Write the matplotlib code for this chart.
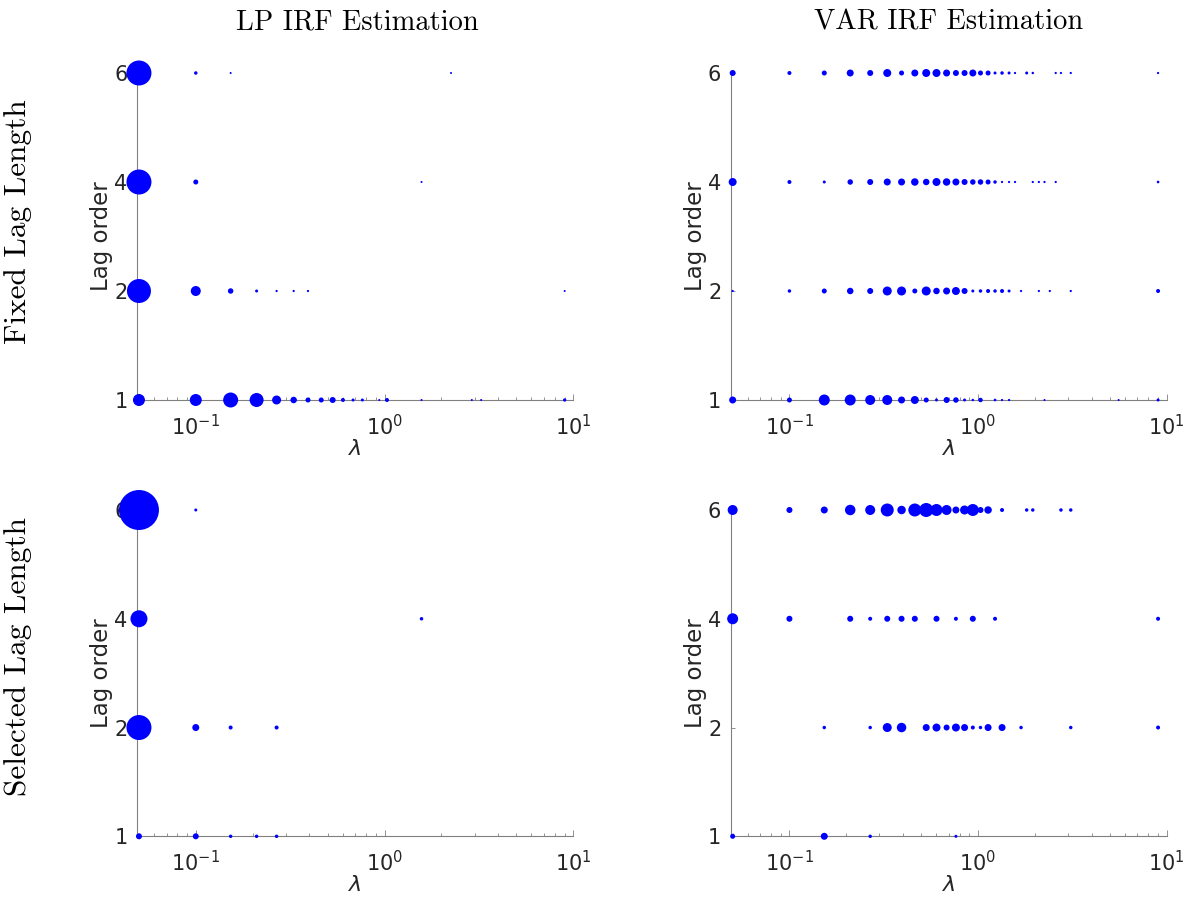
import numpy as np
import matplotlib.pyplot as plt

# lag orders shown on the y axis (equally spaced, categorical)
lags = [1, 2, 4, 6]

# frequency of each (lambda, lag) pick -> marker area
# LP, fixed lag length
lp_fix_lam = {
    6: [0.05, 0.1, 0.153, 2.25],
    4: [0.05, 0.1, 1.57],
    2: [0.05, 0.1, 0.153, 0.21, 0.268, 0.33, 0.393, 9.0],
    1: [0.05, 0.1, 0.153, 0.21, 0.268, 0.33, 0.393, 0.462, 0.531, 0.602, 0.681,
        0.763, 0.938, 1.03, 1.57, 2.9, 3.25, 9.0],
}
lp_fix_n = {
    6: [625, 12, 4, 4],
    4: [625, 25, 4],
    2: [576, 100, 30, 9, 5, 5, 5, 4],
    1: [144, 144, 225, 196, 81, 42, 25, 25, 36, 16, 9, 9, 4, 16, 4, 4, 4, 11],
}

# VAR, fixed lag length
var_fix_lam = {
    6: [0.05, 0.1, 0.153, 0.21, 0.268, 0.33, 0.393, 0.462, 0.531, 0.602, 0.681,
        0.763, 0.848, 0.938, 1.03, 1.13, 1.23, 1.34, 1.46, 1.57, 1.81, 1.95,
        2.58, 2.75, 3.10, 9.0],
    4: [0.05, 0.1, 0.153, 0.21, 0.268, 0.33, 0.393, 0.462, 0.531, 0.602, 0.681,
        0.763, 0.848, 0.938, 1.03, 1.13, 1.23, 1.34, 1.46, 1.57, 1.95, 2.10,
        2.25, 2.58, 9.0],
    2: [0.05, 0.1, 0.153, 0.21, 0.268, 0.33, 0.393, 0.462, 0.531, 0.602, 0.681,
        0.763, 0.848, 0.938, 1.03, 1.13, 1.23, 1.34, 1.46, 1.69, 2.10, 2.40,
        3.10, 9.0],
    1: [0.05, 0.1, 0.153, 0.21, 0.268, 0.33, 0.393, 0.462, 0.531, 0.602, 0.681,
        0.763, 0.848, 0.938, 1.03, 1.23, 1.34, 1.46, 2.25, 5.56, 9.0],
}
var_fix_n = {
    6: [36, 16, 25, 49, 36, 64, 25, 49, 64, 64, 49, 36, 36, 49, 25, 25, 9, 12,
        9, 5, 9, 6, 5, 5, 5, 5],
    4: [64, 16, 9, 30, 36, 49, 49, 56, 42, 64, 56, 49, 36, 30, 30, 25, 12, 5,
        5, 5, 5, 5, 5, 5, 7],
    2: [5, 12, 25, 42, 36, 81, 81, 25, 81, 42, 49, 64, 36, 9, 12, 16, 12, 16,
        9, 5, 5, 5, 5, 16],
    1: [49, 25, 121, 121, 100, 100, 49, 64, 25, 9, 36, 30, 9, 6, 20, 7, 5, 5,
        4, 4, 9],
}

# LP, selected lag length
lp_sel_lam = {
    6: [0.05, 0.1],
    4: [0.05, 1.57],
    2: [0.05, 0.1, 0.153, 0.268],
    1: [0.05, 0.1, 0.153, 0.21, 0.268],
}
lp_sel_n = {
    6: [1600, 9],
    4: [289, 12],
    2: [625, 49, 16, 16],
    1: [36, 36, 12, 12, 12],
}

# VAR, selected lag length
var_sel_lam = {
    6: [0.05, 0.1, 0.153, 0.21, 0.268, 0.33, 0.393, 0.462, 0.531, 0.602, 0.681,
        0.763, 0.848, 0.938, 1.03, 1.13, 1.34, 1.81, 1.95, 2.75, 3.10],
    4: [0.05, 0.1, 0.21, 0.268, 0.33, 0.393, 0.462, 0.602, 0.763, 0.938, 1.23, 9.0],
    2: [0.153, 0.268, 0.33, 0.393, 0.531, 0.602, 0.681, 0.763, 0.848, 0.938,
        1.03, 1.13, 1.34, 1.69, 3.10, 9.0],
    1: [0.05, 0.153, 0.268, 0.763],
}
var_sel_n = {
    6: [100, 36, 49, 110, 100, 169, 72, 169, 196, 144, 100, 49, 81, 144, 36,
        56, 16, 12, 12, 12, 12],
    4: [121, 36, 36, 16, 36, 36, 36, 36, 16, 36, 16, 16],
    2: [12, 12, 81, 90, 49, 64, 36, 64, 49, 16, 12, 49, 49, 12, 12, 16],
    1: [25, 49, 12, 9],
}

col_titles = ["LP IRF Estimation", "VAR IRF Estimation"]
row_titles = ["Fixed Lag Length", "Selected Lag Length"]

W, H = 1183, 898
fig = plt.figure(figsize=(W / 100, H / 100), dpi=100)

axis_gray = "#808080"
text_gray = "#262626"


def make_ax(left, top, right, bottom):
    return fig.add_axes([left / W, 1 - bottom / H, (right - left) / W, (bottom - top) / H])


def draw_panel(ax, lam, n):
    for i, lag in enumerate(lags):
        x = lam[lag]
        s = np.array(n[lag]) * 0.72 ** 2
        ax.scatter(x, np.full(len(x), i + 1), s=s, c="#0000ff", linewidths=0,
                   clip_on=False, zorder=3)
    ax.set_xscale("log")
    ax.set_xlim(0.049, 10)
    ax.set_ylim(1, 4)
    ax.set_yticks(range(1, len(lags) + 1), [str(l) for l in lags])
    for side in ["top", "right"]:
        ax.spines[side].set_visible(False)
    for side in ["left", "bottom"]:
        ax.spines[side].set_color(axis_gray)
        ax.spines[side].set_linewidth(0.8)
    ax.tick_params(which="both", direction="in", color=axis_gray, labelcolor=text_gray,
                   labelsize=15, width=0.6)
    ax.tick_params(axis="x", which="major", length=4, pad=10)
    ax.tick_params(axis="x", which="minor", length=2.5)
    ax.tick_params(axis="y", length=3, pad=7)
    ax.set_ylabel("Lag order", fontsize=16.5, color=text_gray, labelpad=1)
    ax.set_xlabel(r"$\lambda$", fontsize=16, color=text_gray, labelpad=0)
    ax.patch.set_visible(False)


panels = [
    ((137.3, 73, 573.3, 400), lp_fix_lam, lp_fix_n),
    ((731, 73, 1166.7, 400), var_fix_lam, var_fix_n),
    ((137.3, 510, 573.3, 836.3), lp_sel_lam, lp_sel_n),
    ((731, 510, 1166.7, 836.3), var_sel_lam, var_sel_n),
]
for box, lam, n in panels:
    ax = make_ax(*box)
    draw_panel(ax, lam, n)

# column and row headings (LaTeX-like serif)
for x, t in zip([357, 949], col_titles):
    fig.text(x / W, 1 - 30 / H, t, fontsize=20.5, family="cmr10", ha="center", va="baseline")
for y, t in zip([222, 656], row_titles):
    fig.text(18 / W, 1 - y / H, t, fontsize=22.5, family="cmr10", ha="center", va="center",
             rotation=90)

fig.savefig("out.png", dpi=100)
